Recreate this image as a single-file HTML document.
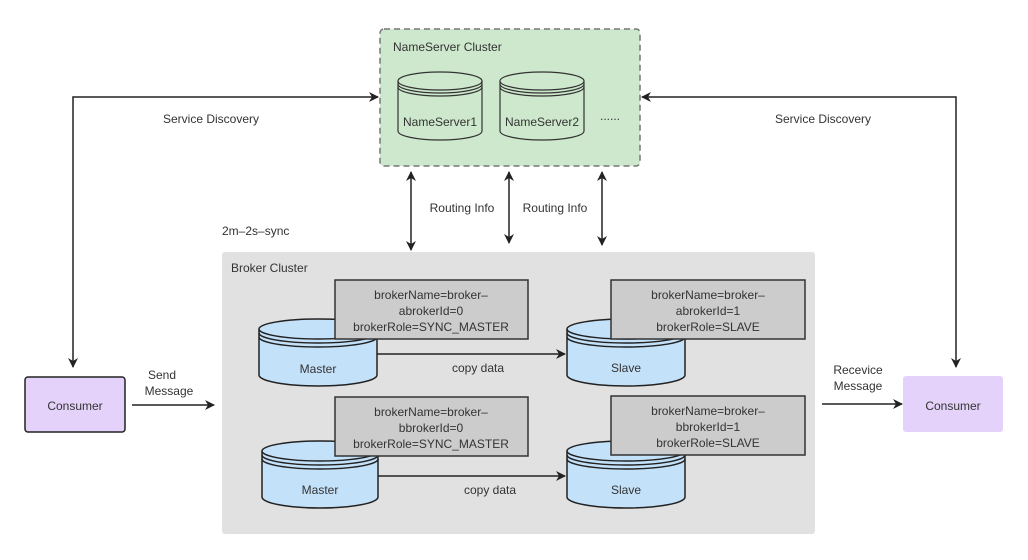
<!DOCTYPE html>
<html><head><meta charset="utf-8"><style>
html,body{margin:0;padding:0;background:#fff;}
svg{display:block;font-family:"Liberation Sans",sans-serif;}
text{fill:#333;font-size:12px;}
</style></head><body>
<svg width="1028" height="560" viewBox="0 0 1028 560" xmlns="http://www.w3.org/2000/svg">
<defs>
<marker id="a" markerWidth="10" markerHeight="10" refX="9" refY="5" orient="auto" markerUnits="userSpaceOnUse"><path d="M0,0 L10,5 L0,10 L3,5 z" fill="#222"/></marker>
<marker id="s" markerWidth="10" markerHeight="10" refX="1" refY="5" orient="auto" markerUnits="userSpaceOnUse"><path d="M10,0 L0,5 L10,10 L7,5 z" fill="#222"/></marker>
</defs>

<!-- NameServer cluster -->
<rect x="380" y="29" width="260" height="137" rx="4" fill="#cde8cc" stroke="#777" stroke-width="1.5" stroke-dasharray="6,4"/>
<text x="393" y="51">NameServer Cluster</text>
<g fill="#cde8cc" stroke="#333" stroke-width="1.2">
<path d="M398,81 v50 a42,9 0 0 0 84,0 v-50"/>
<ellipse cx="440" cy="81" rx="42" ry="9"/>
<path d="M398,84 a42,9 0 0 0 84,0" fill="none"/>
<path d="M398,87 a42,9 0 0 0 84,0" fill="none"/>
<path d="M500,81 v50 a42,9 0 0 0 84,0 v-50"/>
<ellipse cx="542" cy="81" rx="42" ry="9"/>
<path d="M500,84 a42,9 0 0 0 84,0" fill="none"/>
<path d="M500,87 a42,9 0 0 0 84,0" fill="none"/>
</g>
<text x="440" y="126" text-anchor="middle">NameServer1</text>
<text x="542" y="126" text-anchor="middle">NameServer2</text>
<text x="600" y="120">......</text>

<!-- service discovery -->
<g stroke="#222" stroke-width="1.5" fill="none">
<path d="M378,97 H73 V367" marker-end="url(#a)" marker-start="url(#s)"/>
<path d="M642,97 H956 V367" marker-end="url(#a)" marker-start="url(#s)"/>
<path d="M411,172 V250" marker-end="url(#a)" marker-start="url(#s)"/>
<path d="M509,172 V243" marker-end="url(#a)" marker-start="url(#s)"/>
<path d="M602,172 V245" marker-end="url(#a)" marker-start="url(#s)"/>
</g>
<text x="211" y="123" text-anchor="middle">Service Discovery</text>
<text x="823" y="123" text-anchor="middle">Service Discovery</text>
<text x="462" y="212" text-anchor="middle">Routing Info</text>
<text x="555" y="212" text-anchor="middle">Routing Info</text>
<text x="222" y="235">2m–2s–sync</text>

<!-- Broker cluster -->
<rect x="222" y="252" width="593" height="282" rx="3" fill="#e1e1e1"/>
<text x="231" y="272">Broker Cluster</text>

<g fill="#c4e1fa" stroke="#222" stroke-width="1.5">
<path d="M259,329 v46 a59,11 0 0 0 118,0 v-46"/>
<ellipse cx="318" cy="329" rx="59" ry="10"/>
<path d="M259,333 a59,10 0 0 0 118,0" fill="none"/>
<path d="M259,337 a59,10 0 0 0 118,0" fill="none"/>
<path d="M567,329 v46 a59,11 0 0 0 118,0 v-46"/>
<ellipse cx="626" cy="329" rx="59" ry="10"/>
<path d="M567,333 a59,10 0 0 0 118,0" fill="none"/>
<path d="M567,337 a59,10 0 0 0 118,0" fill="none"/>
<path d="M262,451 v46 a58,11 0 0 0 116,0 v-46"/>
<ellipse cx="320" cy="451" rx="58" ry="10"/>
<path d="M262,455 a58,10 0 0 0 116,0" fill="none"/>
<path d="M262,459 a58,10 0 0 0 116,0" fill="none"/>
<path d="M567,451 v46 a59,11 0 0 0 118,0 v-46"/>
<ellipse cx="626" cy="451" rx="59" ry="10"/>
<path d="M567,455 a59,10 0 0 0 118,0" fill="none"/>
<path d="M567,459 a59,10 0 0 0 118,0" fill="none"/>
</g>
<text x="318" y="373" text-anchor="middle">Master</text>
<text x="626" y="372" text-anchor="middle">Slave</text>
<text x="320" y="494" text-anchor="middle">Master</text>
<text x="626" y="494" text-anchor="middle">Slave</text>

<g fill="#cccccc" stroke="#333" stroke-width="1.5">
<rect x="335" y="280" width="193" height="59"/>
<rect x="611" y="280" width="194" height="59"/>
<rect x="335" y="397" width="193" height="59"/>
<rect x="611" y="396" width="194" height="59"/>
</g>
<g text-anchor="middle">
<text x="431" y="299">brokerName=broker–</text><text x="431" y="315">abrokerId=0</text><text x="431" y="331">brokerRole=SYNC_MASTER</text>
<text x="708" y="299">brokerName=broker–</text><text x="708" y="315">abrokerId=1</text><text x="708" y="331">brokerRole=SLAVE</text>
<text x="431" y="416">brokerName=broker–</text><text x="431" y="432">bbrokerId=0</text><text x="431" y="448">brokerRole=SYNC_MASTER</text>
<text x="708" y="415">brokerName=broker–</text><text x="708" y="431">bbrokerId=1</text><text x="708" y="447">brokerRole=SLAVE</text>
</g>

<g stroke="#222" stroke-width="1.5" fill="none">
<path d="M377,354 H565" marker-end="url(#a)"/>
<path d="M378,476 H565" marker-end="url(#a)"/>
<path d="M132,405 H214" marker-end="url(#a)"/>
<path d="M822,404 H902" marker-end="url(#a)"/>
</g>
<text x="478" y="372" text-anchor="middle">copy data</text>
<text x="490" y="494" text-anchor="middle">copy data</text>
<text x="162" y="379" text-anchor="middle">Send</text>
<text x="169" y="395" text-anchor="middle">Message</text>
<text x="858" y="374" text-anchor="middle">Recevice</text>
<text x="858" y="390" text-anchor="middle">Message</text>

<rect x="25" y="377" width="100" height="55" rx="3" fill="#e4d2fa" stroke="#222" stroke-width="1.5"/>
<text x="75" y="410" text-anchor="middle">Consumer</text>
<rect x="903" y="376" width="100" height="56" rx="3" fill="#e4d2fa"/>
<text x="953" y="410" text-anchor="middle">Consumer</text>
</svg>
</body></html>
